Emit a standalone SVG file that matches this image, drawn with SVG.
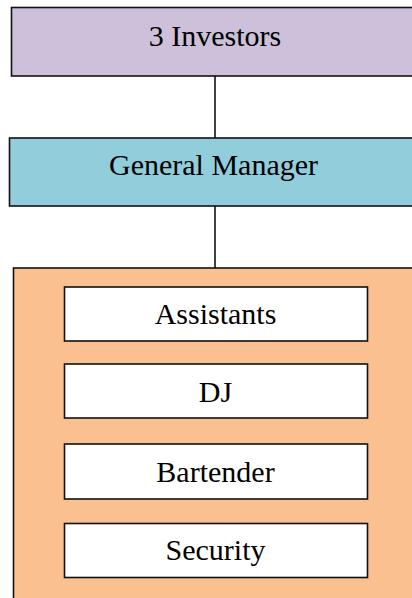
<svg xmlns="http://www.w3.org/2000/svg" width="412" height="598" viewBox="0 0 412 598">
<style>
.box{stroke:#111;stroke-width:1.6}
.inner{fill:#fff;stroke:#111;stroke-width:1.6}
.t{font-family:"Liberation Serif","Times New Roman",serif;font-size:30px;fill:#000;text-anchor:middle}
.c{stroke:#111;stroke-width:1.6;fill:none}
</style>
<rect width="412" height="598" fill="#fff"/>
<g id="connectors">
<line class="c" x1="215" y1="76" x2="215" y2="138"/>
<line class="c" x1="215" y1="206" x2="215" y2="268"/>
</g>
<g id="investors">
<rect class="box" x="11.5" y="7.5" width="420" height="68.5" fill="#CCC0DA"/>
<text class="t" x="215" y="46">3 Investors</text>
</g>
<g id="general-manager">
<rect class="box" x="9.5" y="138" width="420" height="68" fill="#92CDDC"/>
<text class="t" x="213.5" y="175">General Manager</text>
</g>
<g id="staff">
<rect class="box" x="13.5" y="268" width="420" height="340" fill="#FAC090"/>
</g>
<g id="assistants">
<rect class="inner" x="64.5" y="287" width="303" height="54"/>
<text class="t" x="215.5" y="324">Assistants</text>
</g>
<g id="dj">
<rect class="inner" x="64.5" y="364" width="303" height="54"/>
<text class="t" x="215.5" y="401.5">DJ</text>
</g>
<g id="bartender">
<rect class="inner" x="64.5" y="444" width="303" height="55"/>
<text class="t" x="215.5" y="481.5">Bartender</text>
</g>
<g id="security">
<rect class="inner" x="64.5" y="523.5" width="303" height="54"/>
<text class="t" x="215.5" y="560">Security</text>
</g>
</svg>
